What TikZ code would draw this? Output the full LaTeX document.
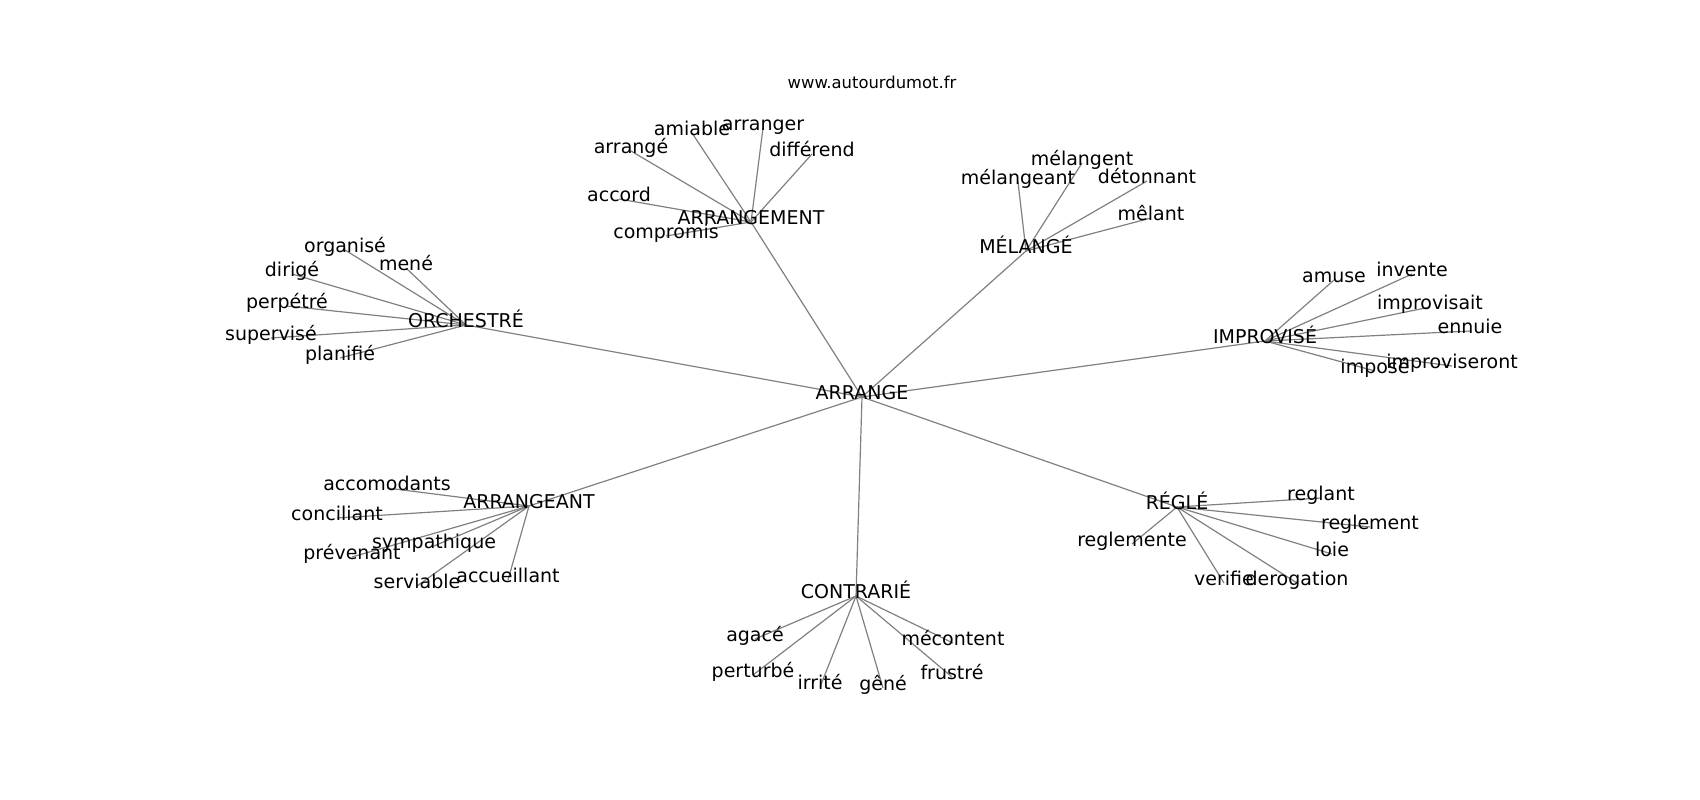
\documentclass[tikz,border=0pt]{standalone}
\usepackage{fontspec}
\setmainfont{DejaVu Sans}
\usetikzlibrary{backgrounds}
\tikzset{
  lbl/.style={font=\fontsize{19}{22}\selectfont, inner sep=0pt, text height=0.76em, text depth=0.23em, anchor=center, text=black},
  ttl/.style={font=\fontsize{16.4}{19}\selectfont, inner sep=0pt, anchor=center, text=black},
  edge/.style={draw=gray, line width=1.2pt}
}
\begin{document}
\begin{tikzpicture}[x=1pt,y=-1pt]
\useasboundingbox (0,-4) rectangle (1700,796);
\node[ttl] (title) at (872,78) {www.autourdumot.fr};
% center
\node[lbl] (c) at (862,393) {ARRANGE};
% hubs
\node[lbl] (h1) at (751,218) {ARRANGEMENT};
\node[lbl] (h2) at (1026,247) {MÉLANGÉ};
\node[lbl] (h3) at (466,321) {ORCHESTRÉ};
\node[lbl] (h4) at (1265,337) {IMPROVISÉ};
\node[lbl] (h5) at (529,502) {ARRANGEANT};
\node[lbl] (h6) at (856,592) {CONTRARIÉ};
\node[lbl] (h7) at (1177,503) {RÉGLÉ};
% ARRANGEMENT leaves
\node[lbl] (a1) at (692,129) {amiable};
\node[lbl] (a2) at (763,124) {arranger};
\node[lbl] (a3) at (631,147) {arrangé};
\node[lbl] (a4) at (812,150) {différend};
\node[lbl] (a5) at (619,195) {accord};
\node[lbl] (a6) at (666,232) {compromis};
% MÉLANGÉ leaves
\node[lbl] (m1) at (1082,159) {mélangent};
\node[lbl] (m2) at (1018,178) {mélangeant};
\node[lbl] (m3) at (1147,177) {détonnant};
\node[lbl] (m4) at (1151,214) {mêlant};
% ORCHESTRÉ leaves
\node[lbl] (o1) at (345,246) {organisé};
\node[lbl] (o2) at (406,264) {mené};
\node[lbl] (o3) at (292,270) {dirigé};
\node[lbl] (o4) at (287,302) {perpétré};
\node[lbl] (o5) at (271,334) {supervisé};
\node[lbl] (o6) at (340,354) {planifié};
% IMPROVISÉ leaves
\node[lbl] (i1) at (1334,276) {amuse};
\node[lbl] (i2) at (1412,270) {invente};
\node[lbl] (i3) at (1430,303) {improvisait};
\node[lbl] (i4) at (1470,327) {ennuie};
\node[lbl] (i5) at (1452,362) {improviseront};
\node[lbl] (i6) at (1375,367) {imposé};
% ARRANGEANT leaves
\node[lbl] (g1) at (387,484) {accomodants};
\node[lbl] (g2) at (337,514) {conciliant};
\node[lbl] (g3) at (434,542) {sympathique};
\node[lbl] (g4) at (352,553) {prévenant};
\node[lbl] (g5) at (417,582) {serviable};
\node[lbl] (g6) at (508,576) {accueillant};
% CONTRARIÉ leaves
\node[lbl] (t1) at (755,635) {agacé};
\node[lbl] (t2) at (953,639) {mécontent};
\node[lbl] (t3) at (753,671) {perturbé};
\node[lbl] (t4) at (820,683) {irrité};
\node[lbl] (t5) at (883,684) {gêné};
\node[lbl] (t6) at (952,673) {frustré};
% RÉGLÉ leaves
\node[lbl] (r1) at (1321,494) {reglant};
\node[lbl] (r2) at (1370,523) {reglement};
\node[lbl] (r3) at (1332,550) {loie};
\node[lbl] (r4) at (1132,540) {reglemente};
\node[lbl] (r5) at (1224,579) {verifie};
\node[lbl] (r6) at (1297,579) {derogation};
\begin{scope}[on background layer]
\foreach \h in {h1,h2,h3,h4,h5,h6,h7} \draw[edge] (c.center) -- (\h.center);
\foreach \l in {a1,a2,a3,a4,a5,a6} \draw[edge] (h1.center) -- (\l.center);
\foreach \l in {m1,m2,m3,m4} \draw[edge] (h2.center) -- (\l.center);
\foreach \l in {o1,o2,o3,o4,o5,o6} \draw[edge] (h3.center) -- (\l.center);
\foreach \l in {i1,i2,i3,i4,i5,i6} \draw[edge] (h4.center) -- (\l.center);
\foreach \l in {g1,g2,g3,g4,g5,g6} \draw[edge] (h5.center) -- (\l.center);
\foreach \l in {t1,t2,t3,t4,t5,t6} \draw[edge] (h6.center) -- (\l.center);
\foreach \l in {r1,r2,r3,r4,r5,r6} \draw[edge] (h7.center) -- (\l.center);
\end{scope}
\end{tikzpicture}
\end{document}
